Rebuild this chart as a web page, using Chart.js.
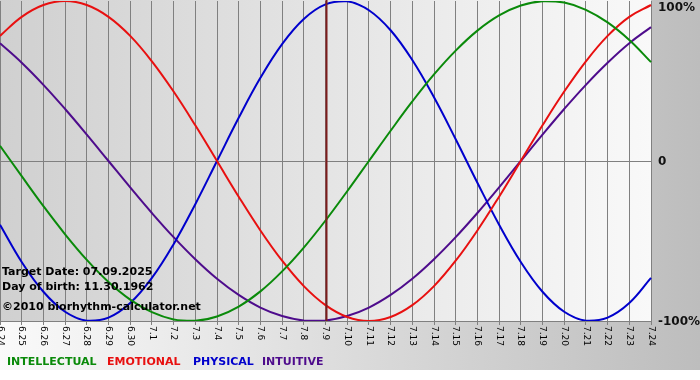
<!DOCTYPE html>
<html>
<head>
<meta charset="utf-8">
<title>Biorhythm</title>
<script src="https://cdn.jsdelivr.net/npm/chart.js@4.4.1/dist/chart.umd.min.js"></script>
<style>
  html, body { margin: 0; padding: 0; background: #fff; }
  #bioChart { display: block; }
</style>
</head>
<body>
<canvas id="bioChart" width="700" height="380"></canvas>
<script>
const dayLabels = ["6.24", "6.25", "6.26", "6.27", "6.28", "6.29", "6.30",
  "7.1", "7.2", "7.3", "7.4", "7.5", "7.6", "7.7", "7.8", "7.9", "7.10",
  "7.11", "7.12", "7.13", "7.14", "7.15", "7.16", "7.17", "7.18", "7.19",
  "7.20", "7.21", "7.22", "7.23", "7.24"];

const intellectual = [9.5, -9.5, -28.2, -45.8, -61.8, -75.6, -86.6, -94.5, -99.0, -99.9,
  -97.2, -91.0, -81.5, -69.0, -54.1, -37.2, -18.9, 0, 18.9, 37.2,
  54.1, 69.0, 81.5, 91.0, 97.2, 99.9, 99.0, 94.5, 86.6, 75.6, 61.8];

const emotional = [78.2, 90.1, 97.5, 100, 97.5, 90.1, 78.2, 62.3, 43.4, 22.3,
  0, -22.3, -43.4, -62.3, -78.2, -90.1, -97.5, -100, -97.5, -90.1,
  -78.2, -62.3, -43.4, -22.3, 0, 22.3, 43.4, 62.3, 78.2, 90.1, 97.5];

const physical = [-39.8, -63.1, -81.7, -94.2, -99.8, -97.9, -88.8, -73.1, -52.0, -27.0,
  0, 27.0, 52.0, 73.1, 88.8, 97.9, 99.8, 94.2, 81.7, 63.1,
  39.8, 13.6, -13.6, -39.8, -63.1, -81.7, -94.2, -99.8, -97.9, -88.8, -73.1];

const intuitive = [73.6, 61.4, 47.6, 32.5, 16.5, 0, -16.5, -32.5, -47.6, -61.4,
  -73.6, -83.7, -91.6, -96.9, -99.7, -99.7, -96.9, -91.6, -83.7, -73.6,
  -61.4, -47.6, -32.5, -16.5, 0, 16.5, 32.5, 47.6, 61.4, 73.6, 83.7];

const yTickLabels = ["100%", "0", "-100%"];
const yTickValues = [100, 0, -100];
const targetIndex = 15; // 7.9

const infoLines = ["Target Date: 07.09.2025", "Day of birth: 11.30.1962", "\u00a92010 biorhythm-calculator.net"];
const legendNames = ["INTELLECTUAL", "EMOTIONAL", "PHYSICAL", "INTUITIVE"];
const legendColors = ["#0a8a0a", "#e81010", "#0000cc", "#4e0c8c"];
const legendX = [7, 107, 193, 262];

// backgrounds, marker line and all text drawn around the chart
const bioDecor = {
  id: "bioDecor",
  beforeDraw(chart) {
    const ctx = chart.ctx;
    const area = chart.chartArea;
    ctx.save();
    ctx.fillStyle = "#ffffff";
    ctx.fillRect(0, 0, chart.width, chart.height);
    const outer = ctx.createLinearGradient(0, 0, chart.width, 0);
    outer.addColorStop(0, "#fafafa");
    outer.addColorStop(1, "#bdbdbd");
    ctx.fillStyle = outer;
    ctx.fillRect(0, 0, chart.width, 370);
    const inner = ctx.createLinearGradient(area.left, 0, area.right, 0);
    inner.addColorStop(0, "#d0d0d0");
    inner.addColorStop(1, "#f9f9f9");
    ctx.fillStyle = inner;
    ctx.fillRect(area.left, area.top - 1, area.right - area.left, area.bottom - area.top + 1);
    ctx.restore();
  },
  afterDatasetsDraw(chart) {
    const ctx = chart.ctx;
    const area = chart.chartArea;
    const xs = chart.scales.x;
    const ys = chart.scales.y;
    ctx.save();

    // marker for the target date
    const mx = Math.round(xs.getPixelForValue(targetIndex)) + 0.5;
    ctx.strokeStyle = "#7c1c1c";
    ctx.lineWidth = 2;
    ctx.beginPath();
    ctx.moveTo(mx, 0);
    ctx.lineTo(mx, area.bottom);
    ctx.stroke();

    // info text
    ctx.fillStyle = "#000";
    ctx.font = "bold 11px 'DejaVu Sans', Verdana, sans-serif";
    ctx.textBaseline = "middle";
    ctx.textAlign = "left";
    ctx.fillText(infoLines[0], 2, 272);
    ctx.fillText(infoLines[1], 2, 287);
    ctx.fillText(infoLines[2], 2, 307);

    // y labels on the right
    ctx.font = "bold 12px 'DejaVu Sans', Verdana, sans-serif";
    ctx.fillStyle = "#111";
    yTickValues.forEach((v, i) => {
      let y = ys.getPixelForValue(v);
      if (v === 100) y += 6;
      ctx.fillText(yTickLabels[i], area.right + 7, y + 1);
    });

    // rotated x labels, reading top to bottom
    ctx.font = "9px 'DejaVu Sans', Verdana, sans-serif";
    ctx.fillStyle = "#000";
    dayLabels.forEach((lab, i) => {
      const x = xs.getPixelForValue(i);
      ctx.save();
      ctx.translate(x, area.bottom + 5);
      ctx.rotate(Math.PI / 2);
      ctx.textAlign = "left";
      ctx.textBaseline = "middle";
      ctx.fillText(lab, 0, 0);
      ctx.restore();
    });

    // legend row
    ctx.font = "bold 11px 'DejaVu Sans', Verdana, sans-serif";
    ctx.textBaseline = "middle";
    legendNames.forEach((name, i) => {
      ctx.fillStyle = legendColors[i];
      ctx.fillText(name, legendX[i], 362);
    });
    ctx.restore();
  }
};

function makeSet(label, data, color) {
  return {
    label: label,
    data: data,
    borderColor: color,
    borderWidth: 2,
    pointRadius: 0,
    tension: 0.4,
    fill: false
  };
}

new Chart(document.getElementById("bioChart"), {
  type: "line",
  data: {
    labels: dayLabels,
    datasets: [
      makeSet("INTELLECTUAL", intellectual, legendColors[0]),
      makeSet("EMOTIONAL", emotional, legendColors[1]),
      makeSet("PHYSICAL", physical, legendColors[2]),
      makeSet("INTUITIVE", intuitive, legendColors[3])
    ]
  },
  options: {
    responsive: false,
    animation: false,
    layout: { padding: { top: 1, right: 0, bottom: 0, left: 0 } },
    plugins: {
      legend: { display: false },
      tooltip: { enabled: false }
    },
    scales: {
      x: {
        grid: { color: "#808080", lineWidth: 1, drawTicks: true, tickLength: 4 },
        border: { display: false },
        ticks: { display: false, autoSkip: false },
        afterFit: (s) => { s.height = 59; }
      },
      y: {
        position: "right",
        min: -100,
        max: 100,
        grid: { color: "#808080", lineWidth: 1, drawTicks: false },
        border: { display: false },
        ticks: { display: false },
        afterBuildTicks: (s) => { s.ticks = [{ value: 0 }, { value: -100 }]; },
        afterFit: (s) => { s.width = 49; }
      }
    }
  },
  plugins: [bioDecor]
});
</script>
</body>
</html>
